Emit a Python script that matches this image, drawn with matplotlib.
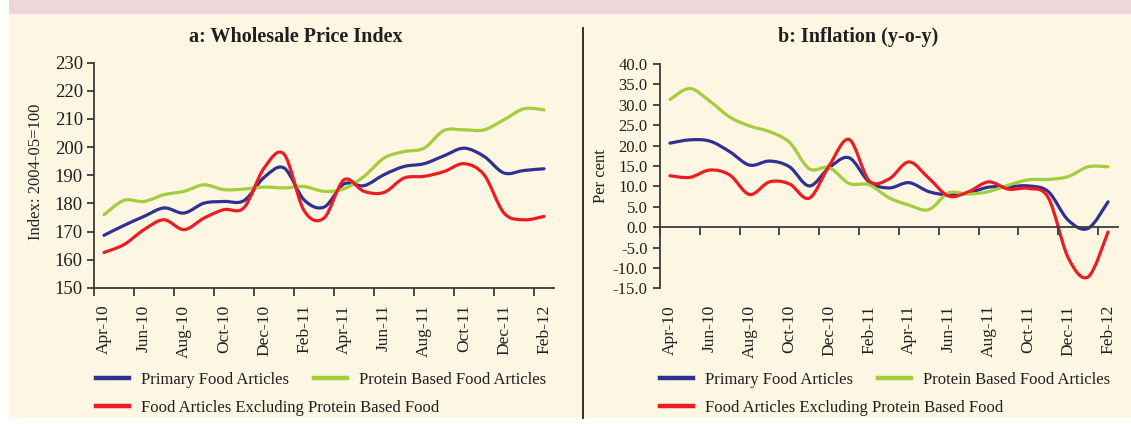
import matplotlib.pyplot as plt
import numpy as np
from matplotlib.path import Path
from matplotlib.patches import PathPatch, Rectangle
from matplotlib.lines import Line2D

plt.rcParams['font.family'] = 'Liberation Serif'
plt.rcParams['axes.unicode_minus'] = False

# Monthly categories, Apr-10 .. Feb-12
months = ['Apr-10', 'May-10', 'Jun-10', 'Jul-10', 'Aug-10', 'Sep-10', 'Oct-10', 'Nov-10',
          'Dec-10', 'Jan-11', 'Feb-11', 'Mar-11', 'Apr-11', 'May-11', 'Jun-11', 'Jul-11',
          'Aug-11', 'Sep-11', 'Oct-11', 'Nov-11', 'Dec-11', 'Jan-12', 'Feb-12']
tick_labels = months[::2]

# a: Wholesale Price Index (2004-05=100)
wpi_primary = [168.7, 172.2, 175.4, 178.4, 176.6, 180.1, 180.7, 181.0, 189.2, 192.6, 181.3, 178.7,
               186.9, 186.3, 190.2, 193.1, 194.1, 196.9, 199.6, 196.7, 190.8, 191.7, 192.3]
wpi_protein = [176.0, 181.1, 180.7, 183.1, 184.3, 186.6, 184.9, 185.1, 185.8, 185.5, 186.0, 184.3,
               185.2, 189.6, 196.1, 198.4, 199.6, 205.9, 206.1, 206.1, 209.7, 213.6, 213.2]
wpi_excl = [162.6, 165.4, 170.7, 174.2, 170.7, 174.8, 177.8, 178.5, 192.5, 197.5, 177.5, 174.8,
            188.4, 184.3, 183.9, 189.0, 189.6, 191.3, 194.1, 190.2, 176.6, 174.2, 175.4]

# b: Inflation (y-o-y), per cent
infl_primary = [20.6, 21.4, 21.1, 18.5, 15.2, 16.2, 14.8, 10.1, 14.6, 17.0, 11.1, 9.6,
                10.9, 8.7, 7.9, 8.4, 9.8, 9.9, 10.1, 8.7, 1.7, -0.3, 6.2]
infl_protein = [31.3, 34.0, 30.9, 27.0, 24.8, 23.4, 20.8, 14.3, 14.6, 10.7, 10.4, 7.2,
                5.4, 4.3, 8.4, 8.1, 8.7, 10.3, 11.6, 11.7, 12.4, 14.8, 14.8]
infl_excl = [12.6, 12.2, 14.0, 12.8, 8.0, 11.1, 10.6, 7.1, 15.1, 21.5, 11.4, 11.8,
             16.0, 12.0, 7.6, 8.7, 11.1, 9.3, 9.5, 7.2, -7.5, -12.2, -1.2]

BLUE = '#2E3192'
GREEN = '#A3CD3B'
RED = '#ED1C24'
CREAM = '#FDF6E2'
PINK = '#EED6DA'
DARK = '#231F20'

W, H = 1131, 424


def smooth_path(xs, ys):
    # Catmull-Rom style smoothed line as cubic Bezier segments (like Excel's smoothed lines)
    pts = np.column_stack([np.asarray(xs, float), np.asarray(ys, float)])
    ext = np.vstack([pts[0], pts, pts[-1]])
    verts = [pts[0]]
    codes = [Path.MOVETO]
    for i in range(len(pts) - 1):
        p0, p1, p2, p3 = ext[i], ext[i + 1], ext[i + 2], ext[i + 3]
        verts += [p1 + (p2 - p0) / 6, p2 - (p3 - p1) / 6, p2]
        codes += [Path.CURVE4] * 3
    return Path(verts, codes)


def draw_series(ax, series):
    x = np.arange(len(months))
    for values, color in series:
        ax.add_patch(PathPatch(smooth_path(x, values), fill=False, edgecolor=color,
                               lw=2.3, capstyle='round', joinstyle='round'))


def style_axis(ax, label_pad):
    ax.set_facecolor('none')
    ax.set_xlim(-0.5, len(months) - 0.5)
    ax.spines['top'].set_visible(False)
    ax.spines['right'].set_visible(False)
    for s in ('left', 'bottom'):
        ax.spines[s].set_color('#3A3A3A')
        ax.spines[s].set_linewidth(1.3)
    # tick marks between categories, labels at every second month
    ax.set_xticks(np.arange(-0.5, len(months) - 1, 2))
    ax.set_xticks(np.arange(0, len(months), 2), minor=True)
    ax.set_xticklabels([])
    ax.set_xticklabels(tick_labels, minor=True)
    ax.tick_params(axis='x', which='major', direction='out', length=6, width=1.3, color='#3A3A3A')
    ax.tick_params(axis='x', which='minor', length=0, pad=label_pad, labelrotation=90,
                   labelsize=12.5, labelcolor=DARK)
    ax.tick_params(axis='y', direction='out', length=5, width=1.3, color='#3A3A3A', pad=3)


fig = plt.figure(figsize=(W / 100, H / 100), dpi=100, facecolor='white')
fig.add_artist(Rectangle((9 / W, 6 / H), 1 - 9 / W, 1 - 20 / H, transform=fig.transFigure,
                         facecolor=CREAM, edgecolor='none', zorder=-10))
fig.add_artist(Rectangle((9 / W, 1 - 14 / H), 1 - 9 / W, 14 / H, transform=fig.transFigure,
                         facecolor=PINK, edgecolor='none', zorder=-10))

# ---- panel a ----
ax1 = fig.add_axes([94 / W, 1 - 288 / H, 460 / W, 225.5 / H])
style_axis(ax1, 12)
ax1.set_ylim(150, 230)
ax1.set_yticks(np.arange(150, 231, 10))
ax1.tick_params(axis='y', labelsize=13.5, labelcolor=DARK)
draw_series(ax1, [(wpi_primary, BLUE), (wpi_protein, GREEN), (wpi_excl, RED)])

# ---- panel b ----
ax2 = fig.add_axes([660 / W, 1 - 288.3 / H, 458 / W, 224.3 / H])
ax2.spines['bottom'].set_position(('data', 0))
style_axis(ax2, 56)
ax2.set_ylim(-15, 40)
ax2.set_yticks(np.arange(-15, 41, 5))
ax2.yaxis.set_major_formatter(plt.FormatStrFormatter('%.1f'))
ax2.tick_params(axis='y', labelsize=12, labelcolor=DARK, pad=4)
draw_series(ax2, [(infl_primary, BLUE), (infl_protein, GREEN), (infl_excl, RED)])

# titles and axis labels
fig.text(296 / W, 1 - 37 / H, 'a: Wholesale Price Index', ha='center', va='center',
         fontsize=14.5, fontweight='bold', color=DARK)
fig.text(858 / W, 1 - 37 / H, 'b: Inflation (y-o-y)', ha='center', va='center',
         fontsize=14.5, fontweight='bold', color=DARK)
fig.text(36 / W, 1 - 172 / H, 'Index: 2004-05=100', rotation=90, ha='center', va='center',
         fontsize=12, color=DARK)
fig.text(601 / W, 1 - 176 / H, 'Per cent', rotation=90, ha='center', va='center',
         fontsize=12, color=DARK)

# separator between panels
fig.add_artist(Line2D([583 / W, 583 / W], [1 - 28 / H, 1 - 418 / H], transform=fig.transFigure,
                      color=DARK, lw=1.3))

# legends
h_blue = Line2D([], [], color=BLUE, lw=3.2)
h_green = Line2D([], [], color=GREEN, lw=3.2)
h_red = Line2D([], [], color=RED, lw=3.2)
leg_kw = dict(loc='center left', frameon=False, fontsize=12, handlelength=2.0,
              handletextpad=0.7, columnspacing=1.5, borderpad=0, borderaxespad=0,
              labelcolor=DARK)
for x0 in (96, 660):
    fig.legend(handles=[h_blue, h_green],
               labels=['Primary Food Articles', 'Protein Based Food Articles'],
               bbox_to_anchor=(x0 / W, 1 - 380 / H), ncol=2, **leg_kw)
    fig.legend(handles=[h_red], labels=['Food Articles Excluding Protein Based Food'],
               bbox_to_anchor=(x0 / W, 1 - 408 / H), **leg_kw)

fig.savefig('out.png', dpi=100, facecolor=fig.get_facecolor())
